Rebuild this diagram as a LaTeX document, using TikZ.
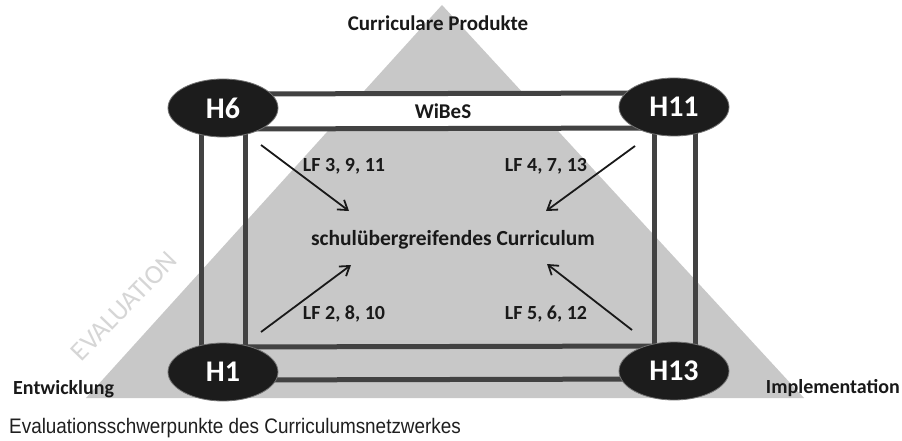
\documentclass[tikz,border=0pt]{standalone}
\usepackage{fontspec}
\setmainfont{Carlito}
\newfontfamily\captionfont[FakeStretch=0.9]{Liberation Sans}
\usepackage{xcolor}
\usepackage{tikz}
\usetikzlibrary{shapes.geometric}
\usetikzlibrary{calc}
\usetikzlibrary{arrows.meta}
\definecolor{tri_gray}{RGB}{200,200,200}
\definecolor{bar_gray}{RGB}{66,66,66}
\definecolor{hs_black}{RGB}{28,28,28}
\definecolor{eval_gray}{RGB}{214,214,214}

\begin{document}
\begin{tikzpicture}[x=1pt, y=-1pt,
    hs/.style={ellipse, fill=hs_black, draw=black!55, line width=0.8pt,
        minimum width=110pt, minimum height=58pt, inner sep=0pt,
        text=white, font=\fontsize{30}{30}\selectfont\bfseries},
    lbl/.style={inner sep=0pt, text=black!90, font=\fontsize{20}{20}\selectfont\bfseries},
    bar/.style={bar_gray, line width=5pt},
    lf/.style={black!90, line width=1.8pt, -{Straight Barb[length=9pt,width=12pt]}}]
    \protect\fill[white] (0,0) rectangle (902,441);
    \useasboundingbox (0,0) rectangle (902,441);
    % Pyramide
    \protect\fill[tri_gray] (442,5) -- (804,398) -- (86,398) -- cycle;
    \node[rotate=46, text=eval_gray, font=\fontsize{27}{27}\selectfont] (eval) at (124,306) {EVALUATION};
    % Ecken
    \coordinate (c6) at (223,108);
    \coordinate (c11) at (674,107);
    \coordinate (c1) at (223,372);
    \coordinate (c13) at (674,371);
    % Netz
    \protect\fill[white] ([yshift=14pt]c6) rectangle ([yshift=-21pt]c11);
    \protect\draw[bar] ([yshift=14pt]c6) -- ([yshift=14pt]c11);
    \protect\draw[bar] ([yshift=-21pt]c6) -- ([yshift=-21pt]c11);
    \protect\draw[bar] ([yshift=25pt]c1) -- ([yshift=25pt]c13);
    \protect\draw[bar] ([yshift=-8pt]c1) -- ([yshift=-8pt]c13);
    \protect\draw[bar] ([xshift=-22pt]c6) -- ([xshift=-22pt]c1);
    \protect\draw[bar] ([xshift=22pt]c6) -- ([xshift=22pt]c1);
    \protect\draw[bar] ([xshift=-20pt]c11) -- ([xshift=-20pt]c13);
    \protect\draw[bar] ([xshift=21pt]c11) -- ([xshift=21pt]c13);
    % Hochschulen
    \node[hs] (H6) at (c6) {H6};
    \node[hs] (H11) at (c11) {H11};
    \node[hs] (H1) at (c1) {H1};
    \node[hs] (H13) at (c13) {H13};
    % Texte
    \node[lbl, font=\fontsize{21}{21}\selectfont\bfseries] (prod) at (438,23) {Curriculare Produkte};
    \node[lbl, font=\fontsize{21}{21}\selectfont\bfseries] (wibes) at (443,111) {WiBeS};
    \node[lbl, font=\fontsize{21.5}{21.5}\selectfont\bfseries] (curr) at (453,240) {schulübergreifendes Curriculum};
    \node[lbl] (lf1) at (344,166) {LF 3, 9, 11};
    \node[lbl] (lf2) at (546,166) {LF 4, 7, 13};
    \node[lbl] (lf3) at (344,314) {LF 2, 8, 10};
    \node[lbl] (lf4) at (546,314) {LF 5, 6, 12};
    \node[lbl, anchor=west] (entw) at (13,389) {Entwicklung};
    \node[lbl, anchor=east] (impl) at (900,388) {Implementation};
    \node[anchor=base west, inner sep=0pt, text=black!88, font=\captionfont\fontsize{21}{21}\selectfont] (cap) at (9,433) {Evaluationsschwerpunkte des Curriculumsnetzwerkes};
    % Pfeile
    \coordinate (a1) at (261,145);
    \coordinate (b1) at (349,211);
    \coordinate (a2) at (635,146);
    \coordinate (b2) at (546,211);
    \coordinate (a3) at (261,332);
    \coordinate (b3) at (351,265);
    \coordinate (a4) at (632,330);
    \coordinate (b4) at (547,264);
    \protect\draw[lf] (a1) -- (b1);
    \protect\draw[lf] (a2) -- (b2);
    \protect\draw[lf] (a3) -- (b3);
    \protect\draw[lf] (a4) -- (b4);
\end{tikzpicture}
\end{document}
